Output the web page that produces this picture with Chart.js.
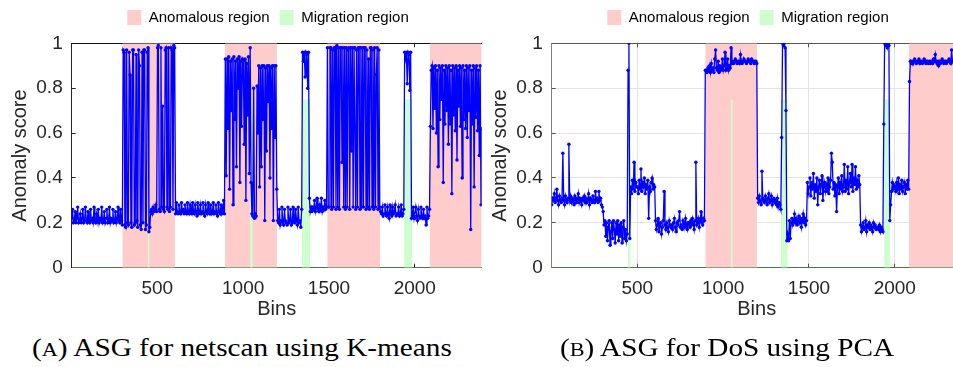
<!DOCTYPE html>
<html><head><meta charset="utf-8">
<script src="https://cdn.jsdelivr.net/npm/chart.js@4.4.1/dist/chart.umd.min.js"></script>
<style>
html,body{margin:0;padding:0;background:#fff;width:953px;height:367px;overflow:hidden;position:relative}
.panel{position:absolute;top:0;width:490px;height:330px}
#wrapA{left:0}
#wrapB{left:480px}
.cap{position:absolute;top:335px;font-family:"Liberation Serif",serif;font-size:25px;line-height:25px;color:#000;white-space:nowrap;transform-origin:0 0;transform:scaleX(1.17)}
.sc{font-size:19px}
</style></head><body>
<div class="panel" id="wrapA"><canvas id="chartA"></canvas></div>
<div class="panel" id="wrapB"><canvas id="chartB"></canvas></div>
<div class="cap" style="left:32px">(<span class="sc">A</span>) ASG for netscan using K-means</div>
<div class="cap" style="left:560px">(<span class="sc">B</span>) ASG for DoS using PCA</div>
<script>
// ---- data ----
const binStart = 1;          // first sampled bin
const binStep = 5;           // bins between samples
const xMin = 1, xMax = 2390;
const xTicks = [500, 1000, 1500, 2000];
const yTicks = [0, 0.2, 0.4, 0.6, 0.8, 1];

// (A) netscan, K-means : anomaly score, one value per 5 bins
const scoreA = [
0.22,0.26,0.20,0.21,0.25,0.20,0.22,0.27,0.20,0.21,0.24,0.20,0.22,0.26,0.20,0.21,0.27,0.21,0.20,0.25,
0.21,0.20,0.26,0.21,0.22,0.20,0.27,0.21,0.20,0.24,0.21,0.26,0.20,0.22,0.21,0.27,0.20,0.21,0.25,0.20,
0.22,0.26,0.20,0.21,0.27,0.20,0.22,0.21,0.26,0.20,0.21,0.25,0.20,0.22,0.27,0.21,0.20,0.26,0.21,0.19,
0.97,0.96,0.19,0.18,0.97,0.20,0.19,0.96,0.86,0.20,0.18,0.97,0.97,0.19,0.20,0.95,0.21,0.18,0.97,0.90,
0.19,0.17,0.96,0.20,0.97,0.97,0.17,0.19,0.96,0.98,0.16,0.18,0.25,0.26,0.24,0.27,0.25,0.26,0.28,0.25,
0.98,0.99,0.26,0.25,0.98,0.27,0.72,0.26,0.25,0.97,0.98,0.27,0.26,0.98,0.25,0.27,0.98,0.97,0.26,0.99,
0.98,0.24,0.29,0.25,0.24,0.28,0.25,0.24,0.29,0.25,0.26,0.24,0.28,0.25,0.24,0.29,0.25,0.24,0.28,0.25,
0.24,0.29,0.25,0.24,0.28,0.25,0.23,0.29,0.24,0.25,0.28,0.24,0.25,0.29,0.24,0.23,0.28,0.25,0.24,0.29,
0.25,0.24,0.28,0.24,0.25,0.29,0.24,0.25,0.28,0.24,0.23,0.29,0.25,0.24,0.28,0.24,0.25,0.30,0.24,0.93,
0.41,0.93,0.62,0.94,0.35,0.92,0.70,0.93,0.28,0.94,0.66,0.92,0.45,0.93,0.80,0.94,0.38,0.92,0.63,0.93,
0.92,0.55,0.93,0.30,0.91,0.68,0.94,0.42,0.98,0.38,0.24,0.23,0.80,0.22,0.24,0.23,0.81,0.60,0.90,0.36,
0.89,0.45,0.90,0.66,0.90,0.21,0.89,0.52,0.90,0.74,0.90,0.40,0.89,0.62,0.90,0.21,0.90,0.58,0.90,0.35,
0.21,0.20,0.26,0.19,0.21,0.27,0.20,0.19,0.26,0.21,0.20,0.19,0.27,0.20,0.21,0.26,0.19,0.20,0.27,0.21,
0.20,0.26,0.21,0.19,0.27,0.20,0.21,0.18,0.26,0.96,0.92,0.96,0.85,0.96,0.95,0.80,0.96,0.31,0.25,0.27,
0.25,0.27,0.26,0.30,0.25,0.27,0.31,0.26,0.25,0.28,0.26,0.31,0.25,0.27,0.26,0.30,0.26,0.27,0.98,0.27,
0.27,0.98,0.98,0.26,0.97,0.27,0.98,0.98,0.26,0.99,0.27,0.98,0.26,0.98,0.98,0.47,0.98,0.27,0.98,0.26,
0.98,0.27,0.97,0.98,0.26,0.98,0.52,0.98,0.27,0.98,0.98,0.26,0.97,0.27,0.98,0.98,0.26,0.98,0.27,0.98,
0.27,0.98,0.98,0.26,0.97,0.27,0.93,0.26,0.98,0.98,0.27,0.97,0.26,0.98,0.27,0.86,0.98,0.26,0.97,0.27,
0.25,0.24,0.27,0.23,0.24,0.28,0.24,0.23,0.27,0.24,0.22,0.28,0.24,0.23,0.27,0.24,0.25,0.28,0.23,0.24,
0.24,0.27,0.23,0.24,0.28,0.23,0.24,0.26,0.96,0.93,0.96,0.82,0.96,0.95,0.79,0.96,0.22,0.23,0.27,0.22,
0.22,0.27,0.23,0.21,0.26,0.23,0.22,0.27,0.23,0.22,0.26,0.22,0.23,0.19,0.27,0.22,0.23,0.26,0.63,0.88,
0.90,0.62,0.89,0.71,0.90,0.60,0.88,0.45,0.90,0.66,0.89,0.75,0.90,0.38,0.88,0.64,0.90,0.70,0.89,0.55,
0.90,0.64,0.88,0.33,0.90,0.68,0.89,0.61,0.90,0.48,0.88,0.72,0.90,0.63,0.89,0.40,0.90,0.66,0.88,0.62,
0.90,0.58,0.89,0.70,0.90,0.17,0.88,0.64,0.90,0.36,0.89,0.67,0.90,0.61,0.88,0.50,0.90,0.28,0.62,0.89
];

// (B) DoS, PCA : anomaly score, one value per 5 bins
const scoreB = [
0.28,0.31,0.30,0.33,0.29,0.31,0.35,0.30,0.28,0.32,0.30,0.29,0.31,0.51,0.30,0.28,0.32,0.30,0.29,0.31,
0.55,0.30,0.32,0.29,0.31,0.30,0.28,0.32,0.31,0.29,0.30,0.33,0.29,0.31,0.30,0.28,0.31,0.30,0.32,0.29,
0.31,0.29,0.30,0.33,0.28,0.31,0.30,0.29,0.32,0.30,0.29,0.34,0.30,0.31,0.29,0.34,0.30,0.31,0.28,0.27,
0.25,0.19,0.21,0.14,0.20,0.12,0.18,0.21,0.10,0.16,0.20,0.13,0.21,0.17,0.11,0.20,0.15,0.21,0.12,0.19,
0.14,0.20,0.11,0.18,0.21,0.13,0.17,0.12,0.15,0.88,1.00,0.13,0.36,0.33,0.39,0.35,0.47,0.34,0.38,0.36,
0.36,0.33,0.39,0.35,0.44,0.34,0.38,0.36,0.40,0.33,0.37,0.35,0.39,0.22,0.36,0.34,0.38,0.40,0.35,0.37,
0.36,0.21,0.17,0.19,0.22,0.16,0.19,0.20,0.15,0.18,0.21,0.34,0.19,0.17,0.20,0.18,0.16,0.21,0.19,0.18,
0.19,0.17,0.20,0.22,0.18,0.16,0.20,0.19,0.21,0.25,0.18,0.19,0.17,0.21,0.20,0.18,0.22,0.19,0.17,0.20,
0.20,0.18,0.21,0.19,0.22,0.20,0.17,0.21,0.47,0.19,0.20,0.22,0.18,0.21,0.25,0.20,0.19,0.22,0.21,0.88,
0.88,0.87,0.89,0.88,0.90,0.87,0.91,0.88,0.89,0.87,0.93,0.97,0.89,0.88,0.92,0.87,0.90,0.88,0.89,0.93,
0.88,0.90,0.96,0.88,0.89,0.93,0.88,0.90,0.89,0.98,0.91,0.92,0.91,0.92,0.93,0.92,0.91,0.92,0.92,0.91,
0.95,0.92,0.91,0.92,0.93,0.92,0.92,0.91,0.92,0.93,0.92,0.92,0.91,0.93,0.92,0.92,0.91,0.92,0.92,0.91,
0.31,0.29,0.32,0.30,0.28,0.43,0.31,0.30,0.29,0.32,0.30,0.28,0.31,0.33,0.29,0.30,0.32,0.28,0.30,0.31,
0.29,0.30,0.28,0.31,0.27,0.29,0.28,0.26,0.58,1.00,0.99,1.00,0.98,0.70,0.12,0.15,0.12,0.21,0.13,0.20,
0.22,0.19,0.21,0.24,0.20,0.22,0.19,0.21,0.23,0.20,0.22,0.18,0.21,0.24,0.20,0.22,0.19,0.21,0.38,0.33,
0.36,0.40,0.32,0.38,0.35,0.42,0.31,0.37,0.34,0.40,0.28,0.36,0.39,0.33,0.37,0.41,0.30,0.36,0.38,0.34,
0.37,0.34,0.40,0.33,0.36,0.39,0.51,0.47,0.35,0.38,0.32,0.37,0.25,0.36,0.40,0.33,0.38,0.35,0.41,0.34,
0.36,0.46,0.34,0.39,0.35,0.45,0.33,0.38,0.42,0.36,0.46,0.34,0.40,0.37,0.45,0.35,0.39,0.36,0.41,0.37,
0.19,0.16,0.18,0.20,0.17,0.18,0.21,0.16,0.19,0.18,0.20,0.17,0.19,0.18,0.16,0.20,0.18,0.19,0.17,0.18,
0.18,0.17,0.19,0.16,0.18,0.17,0.16,0.64,1.00,0.99,1.00,0.98,1.00,0.99,0.21,0.28,0.34,0.38,0.35,0.37,
0.36,0.34,0.38,0.35,0.40,0.33,0.37,0.35,0.39,0.34,0.36,0.38,0.33,0.37,0.35,0.39,0.35,0.83,0.92,0.91,
0.92,0.91,0.92,0.93,0.92,0.91,0.92,0.92,0.93,0.91,0.92,0.92,0.91,0.92,0.93,0.92,0.91,0.92,0.92,0.91,
0.92,0.91,0.92,0.92,0.91,0.93,0.92,0.95,0.92,0.91,0.92,0.90,0.92,0.91,0.92,0.93,0.92,0.91,0.92,0.92,
0.91,0.92,0.92,0.93,0.92,0.91,0.97,0.92,0.92,0.91,0.92,0.93,0.92,0.91,0.92,0.92,0.93,0.92,0.91,0.92
];

// shaded regions [startBin, endBin]
const anomalousA = [[296, 603], [894, 1197], [1490, 1798], [2087, 2390]];
const migrationA = [[445, 455], [1040, 1056], [1343, 1390], [1938, 1986]];
const anomalousB = [[896, 1197], [2083, 2390]];
const migrationB = [[445, 461], [1044, 1056], [1337, 1376], [1938, 1972]];
const anomalousHeight = 1;
const migrationHeight = 0.75;

// ---- styling ----
const SANS = '"Liberation Sans", Arial, sans-serif';
const PINK = '#ffcccc', GREEN = '#ccffcc', BLUE = '#0000ff';
const LEGEND_OFFSET = -8.7;

const legendShift = {
  id: 'legendShift',
  afterLayout(chart) {
    const l = chart.legend;
    if (l) { l.left += LEGEND_OFFSET; l.right += LEGEND_OFFSET; }
  }
};

function regionSets(list, h, label, color) {
  return list.map((r, i) => ({
    type: 'line',
    label: i === 0 ? label : '',
    data: [{x: r[0], y: h}, {x: r[1], y: h}],
    fill: 'origin',
    backgroundColor: color,
    borderColor: color,
    borderWidth: 0,
    pointRadius: 0,
    tension: 0
  }));
}

function makeChart(id, scores, anomalous, migration, st) {
  const pts = scores.map((v, i) => ({x: binStart + i * binStep, y: v}));
  const datasets = [
    {
      type: 'line', label: 'score', data: pts,
      borderColor: BLUE, borderWidth: 1.3, backgroundColor: BLUE,
      pointRadius: 1.7, pointBorderWidth: 0, pointBackgroundColor: BLUE,
      fill: false, tension: 0
    },
    ...regionSets(migration, migrationHeight, 'Migration region', GREEN),
    ...regionSets(anomalous, anomalousHeight, 'Anomalous region', PINK)
  ];
  const innerTicks = {display: true, drawOnChartArea: st.grid, color: '#e4e4e4',
                      drawTicks: true, tickLength: -4, tickColor: st.tick, tickWidth: 1};
  return new Chart(document.getElementById(id), {
    type: 'line',
    data: {datasets},
    plugins: [legendShift],
    options: {
      responsive: true, maintainAspectRatio: false, animation: false,
      events: [],
      layout: {padding: {left: 5.7, right: 8.3, top: 0, bottom: 4.5}},
      plugins: {
        tooltip: {enabled: false},
        legend: {
          display: true, position: 'top', fullSize: false,
          labels: {
            boxWidth: 14, boxHeight: 15, padding: 10, color: '#000',
            font: {family: SANS, size: 15},
            filter: item => item.text !== '' && item.text !== 'score',
            sort: (a, b) => (a.text === 'Anomalous region' ? -1 : 1) - (b.text === 'Anomalous region' ? -1 : 1)
          }
        }
      },
      scales: {
        x: {
          type: 'linear', position: 'bottom', min: xMin, max: xMax,
          afterBuildTicks: s => { s.ticks = xTicks.map(v => ({value: v})); },
          afterFit: s => { s.height = 57.8; },
          ticks: {padding: 14, color: '#262626', font: {family: SANS, size: 19}, maxRotation: 0, autoSkip: false, callback: v => String(v)},
          grid: innerTicks,
          border: {display: true, color: st.bottom, width: 1},
          title: {display: true, text: 'Bins', color: '#262626', font: {family: SANS, size: 20}, padding: {top: 0, bottom: 4}}
        },
        xTop: {
          type: 'linear', position: 'top', min: xMin, max: xMax,
          afterBuildTicks: s => { s.ticks = xTicks.map(v => ({value: v})); },
          ticks: {display: false},
          grid: {display: true, drawOnChartArea: false, drawTicks: true, tickLength: -4, tickColor: st.tick},
          border: {display: true, color: st.top, width: 1},
          afterFit: s => { s.height = 8.3; }
        },
        y: {
          type: 'linear', position: 'left', min: 0, max: 1,
          afterBuildTicks: s => { s.ticks = yTicks.map(v => ({value: v})); },
          afterFit: s => { s.width = 66; },
          ticks: {padding: 13, color: '#262626', font: {family: SANS, size: 19}, callback: v => String(v)},
          grid: innerTicks,
          border: {display: true, color: st.left, width: 1},
          title: {display: true, text: 'Anomaly score', color: '#262626', font: {family: SANS, size: 20}, padding: {top: 3, bottom: 0}}
        }
      }
    }
  });
}

makeChart('chartA', scoreA, anomalousA, migrationA, {grid: false, left: '#262626', top: '#111111', bottom: '#4a744a', tick: '#262626'});
makeChart('chartB', scoreB, anomalousB, migrationB, {grid: true, left: '#808080', top: '#555555', bottom: '#4a744a', tick: '#555555'});
</script>
</body></html>
